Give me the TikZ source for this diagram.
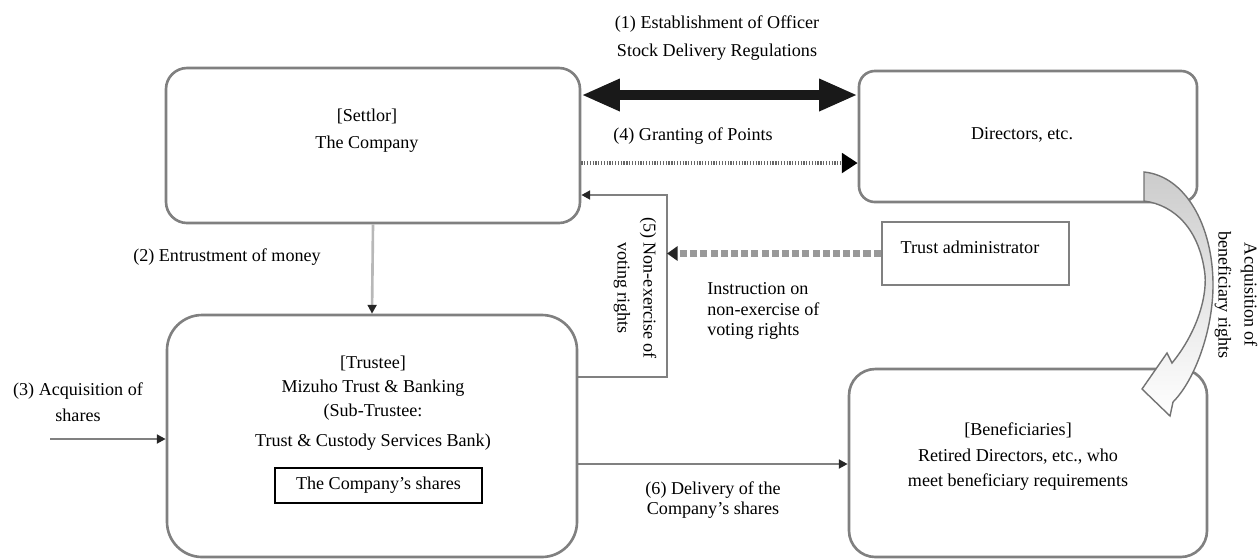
\documentclass[tikz,border=0pt]{standalone}
\usepackage{fontspec}
\setmainfont{Liberation Serif}
\usetikzlibrary{arrows.meta,fit}

\tikzset{
  box/.style={draw=black!50, line width=1.5pt, rounded corners=#1, inner sep=0pt},
  plainbox/.style={draw=black!50, line width=1.5pt, inner sep=0pt},
  sharebox/.style={draw=black, line width=0.9pt, inner sep=0pt},
  lbl/.style={font=\fontsize{10.3}{13.6}\selectfont, align=center, inner sep=0pt},
  conn/.style={draw=black!50, line width=1.5pt, -{Triangle[length=5pt,width=5pt,color=black!85]}},
  lightconn/.style={conn, draw=black!28},
  bigarrow/.style={draw=black!90, line width=6pt,
    {Triangle[length=22pt,width=17pt]}-{Triangle[length=22pt,width=17pt]}},
  dotarrow/.style={draw=black!60, line width=2.5pt, dash pattern=on 0.7pt off 0.9pt,
    -{Triangle[length=9pt,width=11pt,color=black]}},
  dasharrow/.style={draw=black!40, line width=3.5pt, dash pattern=on 4pt off 1.8pt,
    -{Triangle[length=6pt,width=8pt,color=black!85]}}
}

\begin{document}
\begin{tikzpicture}[x=0.02cm, y=-0.02cm]
  \useasboundingbox (0,0) rectangle (1260,559);

  % Boxes
  \node[box=12pt, fit={(166,68) (580,223)}] (settlor) {};
  \node[box=9pt, fit={(859,71) (1197,202)}] (directors) {};
  \node[box=20pt, fit={(167,315) (577,557)}] (trustee) {};
  \node[box=15pt, fit={(849,369) (1207,557)}] (benef) {};
  \node[plainbox, fit={(882,222) (1069,285)}] (admin) {};
  \node[sharebox, fit={(275,468) (482,503)}] (shares) {};

  % Box texts
  \node[lbl, font=\fontsize{10.3}{15.3}\selectfont] (settlortxt) at (367,131) {[Settlor]\\The Company};
  \node[lbl] (directorstxt) at (1022,135) {Directors, etc.};
  \node[lbl, font=\fontsize{10.3}{13.8}\selectfont] (trusteetxt) at (373,403)
    {[Trustee]\\Mizuho Trust \& Banking\\(Sub-Trustee:\\[3pt]Trust \& Custody Services Bank)};
  \node[lbl] (sharestxt) at (shares.center) {The Company’s shares};
  \node[lbl, font=\fontsize{10.3}{14.5}\selectfont] (beneftxt) at (1018,457)
    {[Beneficiaries]\\Retired Directors, etc., who\\meet beneficiary requirements};
  \node[lbl] (admintxt) at (970,247) {Trust administrator};

  % Helper points
  \coordinate (fivecorner) at (667,195);
  \coordinate (shareinput) at (50,439);

  % (1) and (4)
  \draw[bigarrow] (settlor.east |- 0,95) -- (directors.west |- 0,95);
  \node[lbl, font=\fontsize{10.3}{15.9}\selectfont] (onetxt) at (717,38)
    {(1) Establishment of Officer\\Stock Delivery Regulations};
  \draw[dotarrow] (settlor.east |- 0,163) -- (directors.west |- 0,163);
  \node[lbl, anchor=west] (fourtxt) at (613,136) {(4) Granting of Points};

  % (2) Entrustment of money
  \draw[lightconn] (settlor.south) -- (trustee.north);
  \node[lbl] (twotxt) at (227,257) {(2) Entrustment of money};

  % (3) Acquisition of shares
  \draw[conn] (shareinput) -- (trustee.west |- shareinput);
  \node[lbl, font=\fontsize{10.3}{14.7}\selectfont] (threetxt) at (78,402) {(3) Acquisition of\\shares};

  % (5) Non-exercise of voting rights
  \draw[conn] (trustee.east |- 0,377) -| (fivecorner) -- (settlor.east |- fivecorner);
  \node[lbl, rotate=-90, font=\fontsize{10.3}{14.7}\selectfont] (fivetxt) at (635,288)
    {(5) Non-exercise of\\voting rights};
  \draw[dasharrow] (admin.west) -- (admin.west -| fivecorner);
  \node[lbl, anchor=west, align=left, font=\fontsize{10.3}{11.9}\selectfont] (instrtxt) at (707,311)
    {Instruction on\\non-exercise of\\voting rights};

  % (6) Delivery of the Company's shares
  \draw[conn] (trustee.east |- 0,464) -- (benef.west |- 0,464);
  \node[lbl, font=\fontsize{10.3}{10.9}\selectfont] (sixtxt) at (713,500)
    {(6) Delivery of the\\Company’s shares};

  % Acquisition of beneficiary rights
  \shade[top color=black!20, bottom color=white, draw=black!55, line width=0.8pt]
    (1144,172) .. controls (1185,176) and (1213,225) .. (1213,285)
    .. controls (1213,330) and (1195,380) .. (1173,402)
    -- (1170,416) -- (1142,389) -- (1167,353) -- (1172,363)
    .. controls (1195,335) and (1207,300) .. (1205,275)
    .. controls (1200,230) and (1175,205) .. (1144,201) -- cycle;
  \node[lbl, rotate=-90, font=\fontsize{10.3}{14.7}\selectfont] (acqtxt) at (1236,295)
    {Acquisition of\\beneficiary rights};
\end{tikzpicture}
\end{document}
